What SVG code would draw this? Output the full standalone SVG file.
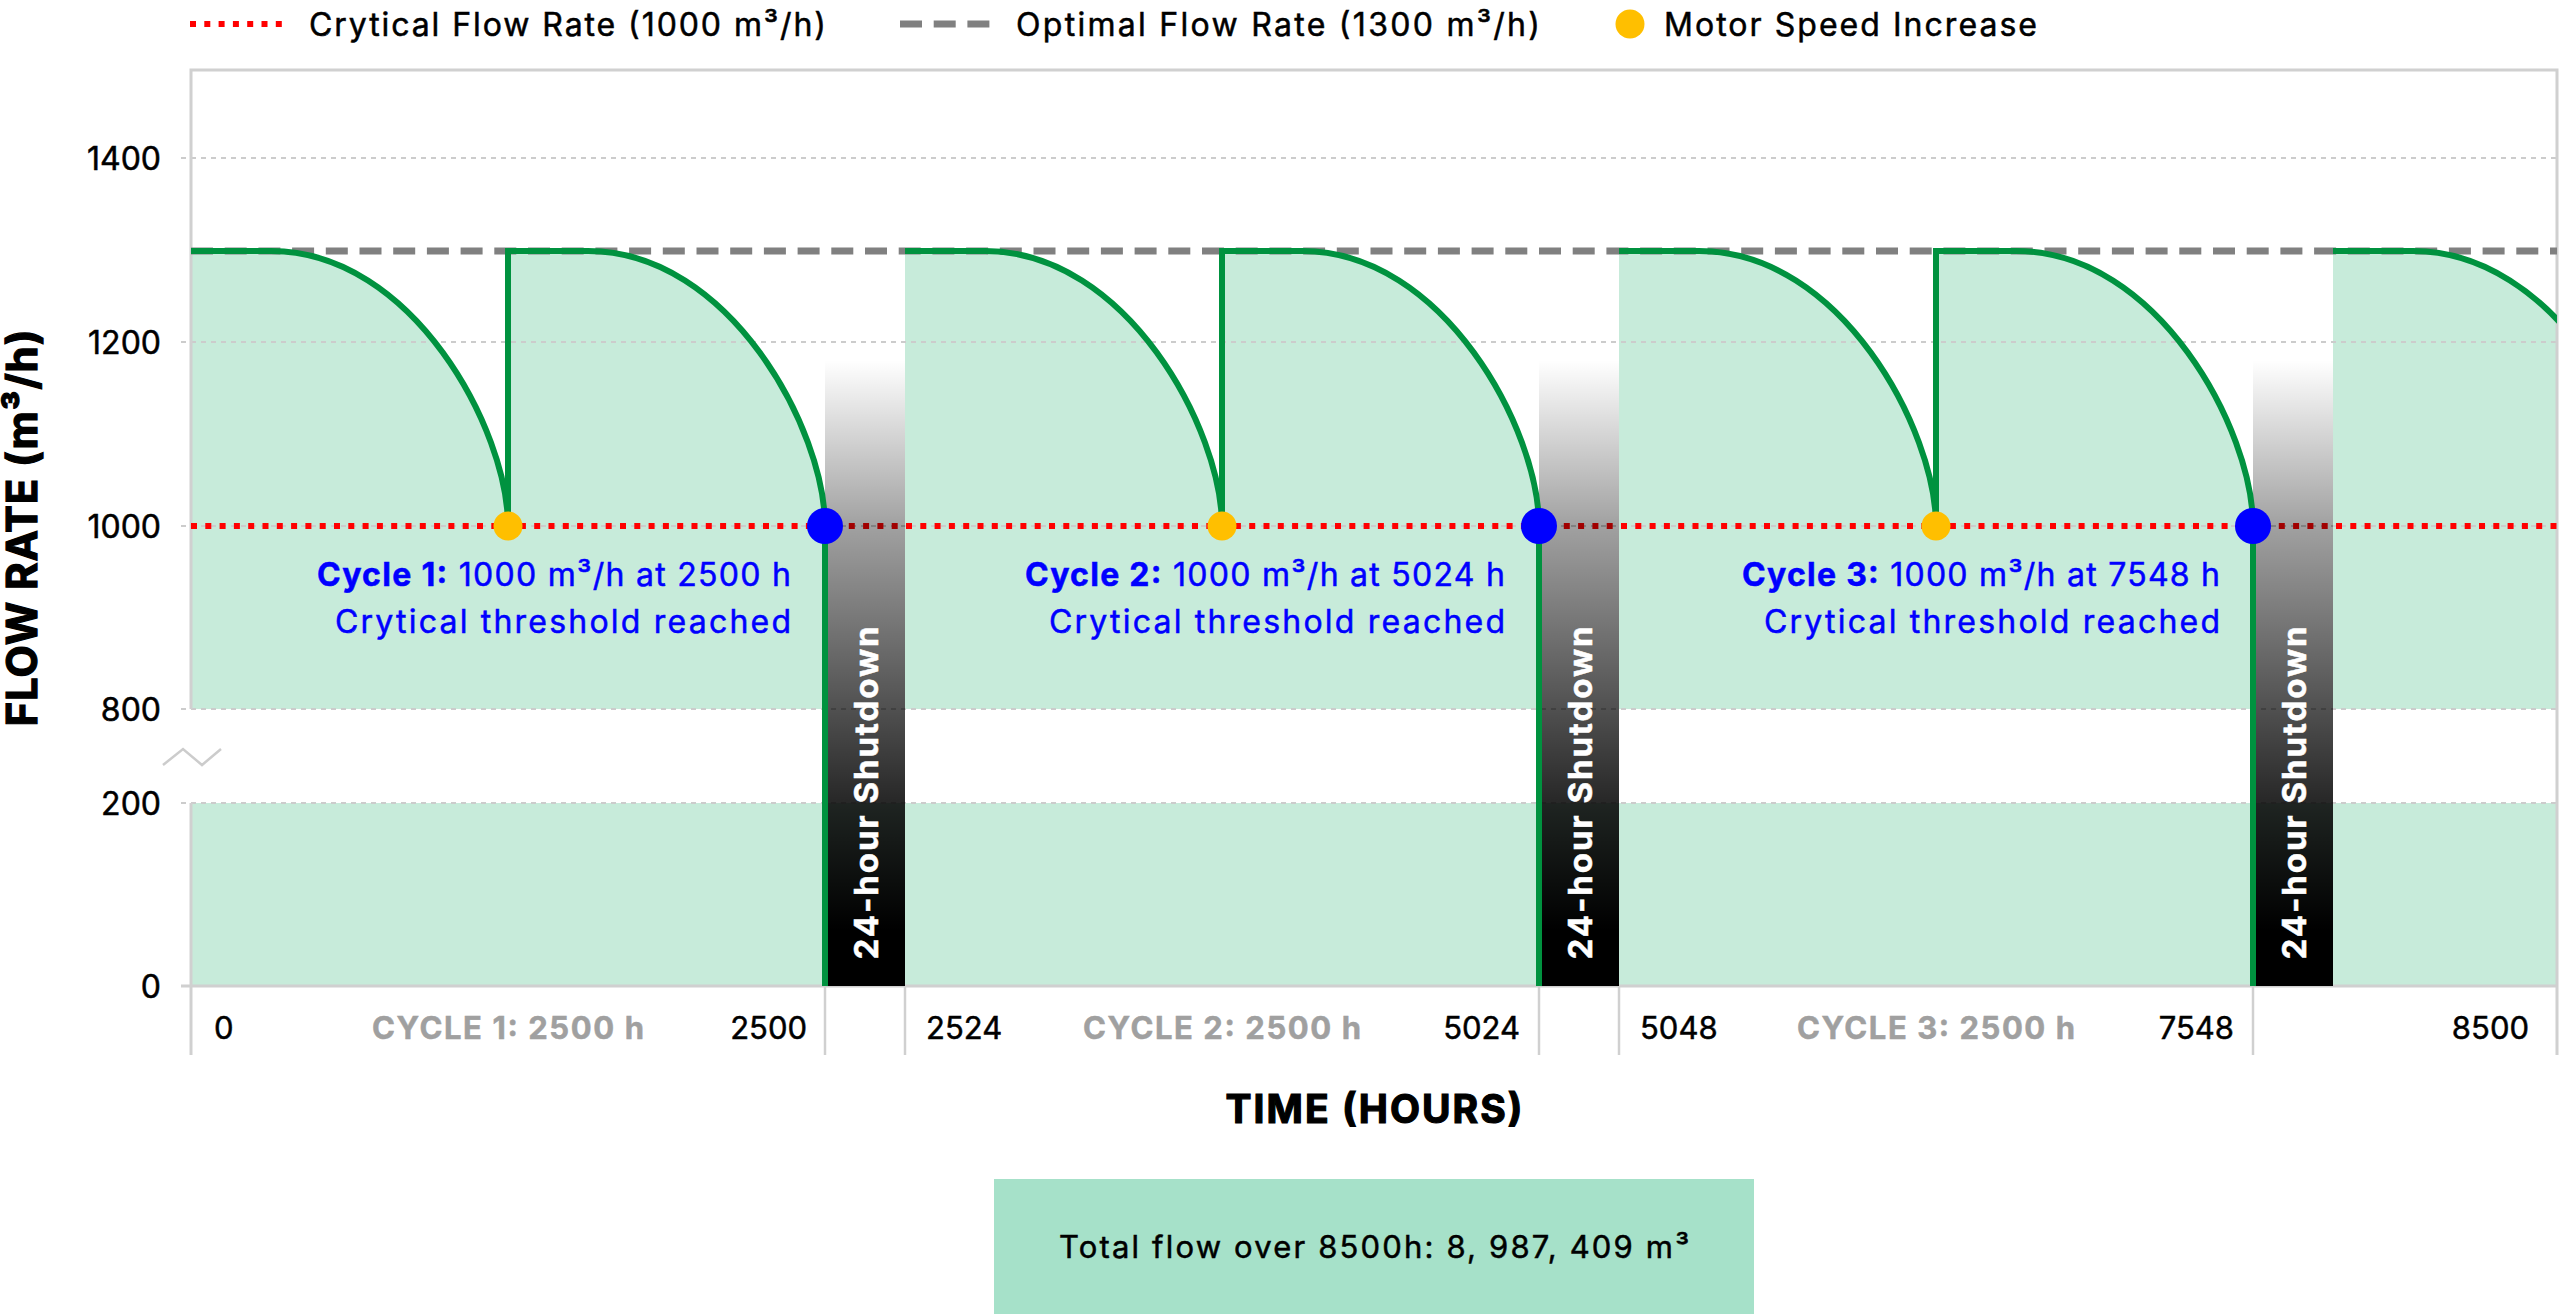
<svg xmlns="http://www.w3.org/2000/svg" width="2560" height="1314" viewBox="0 0 2560 1314">
<style>
text{font-family:Inter,"Open Sans","Liberation Sans",sans-serif;font-weight:400;fill:#000;stroke:#000;stroke-width:0.5}
.leg{font-size:32px}
.ytick{font-size:32px;text-anchor:end}
.xtick{font-size:31px}
.cyc{font-size:31px;fill:#a0a0a0;stroke:#a0a0a0;font-weight:700;text-anchor:middle}
.blue{font-size:32px;fill:#0000ff;stroke:#0000ff;text-anchor:end}
.shut{font-size:33px;fill:#fff;stroke:#fff;font-weight:700;text-anchor:middle}
.head{font-weight:700;stroke-width:1.2}
.grid{stroke:#cccccc;stroke-width:2;stroke-dasharray:5 5;fill:none}
.frame{stroke:#d0d0d0;stroke-width:3;fill:none}
.sep{stroke:#d0d0d0;stroke-width:2.5}
.fill{fill:#c7ebda;stroke:none}
.flow{fill:none;stroke:#00923f;stroke-width:6}
.crit{stroke:#ff0000;stroke-width:6;stroke-dasharray:6 8.3;fill:none}
.opt{stroke:#808080;stroke-width:7;stroke-dasharray:22 11.7;fill:none}
.bar{fill:url(#shade)}
.ydot{fill:#ffbf00}
.bdot{fill:#0000ff}
</style>
<defs>
<linearGradient id="shade" gradientUnits="userSpaceOnUse" x1="0" y1="360" x2="0" y2="986">
<stop offset="0" stop-color="#000" stop-opacity="0"/>
<stop offset="0.265" stop-color="#000" stop-opacity="0.37"/>
<stop offset="0.7" stop-color="#000" stop-opacity="0.84"/>
<stop offset="0.91" stop-color="#000" stop-opacity="1"/>
<stop offset="1" stop-color="#000" stop-opacity="1"/>
</linearGradient>
<clipPath id="plot"><rect x="191" y="60" width="2366" height="930"/></clipPath>
</defs>
<rect width="2560" height="1314" fill="#fff"/>

<g id="legend">
<line class="crit" x1="190" y1="24" x2="284" y2="24"/>
<text class="leg" x="309" y="36" textLength="517">Crytical Flow Rate (1000 m³/h)</text>
<line class="opt" x1="900" y1="24" x2="992" y2="24"/>
<text class="leg" x="1016" y="36" textLength="524">Optimal Flow Rate (1300 m³/h)</text>
<circle class="ydot" cx="1630" cy="24" r="14.5"/>
<text class="leg" x="1664" y="36" textLength="373">Motor Speed Increase</text>
</g>

<g id="fills" clip-path="url(#plot)">
<path class="fill" d="M191,709 L191,251 L271,251 C413,251 508,430 508,526 L508,251 L588,251 C730,251 825,430 825,526 L825,709 Z"/>
<path class="fill" d="M905,709 L905,251 L985,251 C1127,251 1222,430 1222,526 L1222,251 L1302,251 C1444,251 1539,430 1539,526 L1539,709 Z"/>
<path class="fill" d="M1619,709 L1619,251 L1699,251 C1841,251 1936,430 1936,526 L1936,251 L2016,251 C2158,251 2253,430 2253,526 L2253,709 Z"/>
<path class="fill" d="M2333,709 L2333,251 L2413,251 C2555,251 2650,430 2650,526 L2650,709 Z"/>
<rect class="fill" x="191" y="803" width="2366" height="183"/>
</g>

<g id="grid">
<line class="grid" x1="181" y1="158" x2="2557" y2="158"/>
<line class="grid" x1="181" y1="342" x2="2557" y2="342"/>
<line class="grid" x1="181" y1="526" x2="2557" y2="526"/>
<line class="grid" x1="181" y1="709" x2="2557" y2="709"/>
<line class="grid" x1="181" y1="803" x2="2557" y2="803"/>
<polyline points="163,765 183,749 202,765 221,749" fill="none" stroke="#cccccc" stroke-width="2.5"/>
</g>

<g id="frame">
<polyline class="frame" points="191,709 191,70 2557,70 2557,1055"/>
<line class="frame" x1="191" y1="803" x2="191" y2="1055"/>
<line class="frame" x1="181" y1="986" x2="2557" y2="986"/>
<line class="sep" x1="825" y1="986" x2="825" y2="1055"/>
<line class="sep" x1="905" y1="986" x2="905" y2="1055"/>
<line class="sep" x1="1539" y1="986" x2="1539" y2="1055"/>
<line class="sep" x1="1619" y1="986" x2="1619" y2="1055"/>
<line class="sep" x1="2253" y1="986" x2="2253" y2="1055"/>
</g>

<g id="reference-lines">
<line class="opt" x1="191" y1="251" x2="2557" y2="251"/>
<line class="crit" x1="191" y1="526" x2="2557" y2="526"/>
</g>

<g id="shutdown-1">
<rect class="bar" x="825" y="360" width="80" height="626"/>
<text class="shut" transform="translate(878,793) rotate(-90)" textLength="333">24-hour Shutdown</text>
</g>
<g id="shutdown-2">
<rect class="bar" x="1539" y="360" width="80" height="626"/>
<text class="shut" transform="translate(1592,793) rotate(-90)" textLength="333">24-hour Shutdown</text>
</g>
<g id="shutdown-3">
<rect class="bar" x="2253" y="360" width="80" height="626"/>
<text class="shut" transform="translate(2306,793) rotate(-90)" textLength="333">24-hour Shutdown</text>
</g>

<g id="connectors" clip-path="url(#plot)">
<path class="flow" d="M191,251 L271,251 C413,251 508,430 508,526 L508,251 L588,251 C730,251 825,430 825,526 L825,986"/>
<path class="flow" d="M905,251 L985,251 C1127,251 1222,430 1222,526 L1222,251 L1302,251 C1444,251 1539,430 1539,526 L1539,986"/>
<path class="flow" d="M1619,251 L1699,251 C1841,251 1936,430 1936,526 L1936,251 L2016,251 C2158,251 2253,430 2253,526 L2253,986"/>
<path class="flow" d="M2333,251 L2413,251 C2555,251 2650,430 2650,526"/>
</g>

<g id="markers">
<circle class="ydot" cx="508" cy="526" r="14.5"/>
<circle class="ydot" cx="1222" cy="526" r="14.5"/>
<circle class="ydot" cx="1936" cy="526" r="14.5"/>
<circle class="bdot" cx="825" cy="526" r="18"/>
<circle class="bdot" cx="1539" cy="526" r="18"/>
<circle class="bdot" cx="2253" cy="526" r="18"/>
</g>

<g id="cycle-labels">
<text class="blue" x="791" y="586" textLength="474"><tspan font-weight="700">Cycle 1:</tspan> 1000 m³/h at 2500 h</text>
<text class="blue" x="791" y="633" textLength="456">Crytical threshold reached</text>
<text class="blue" x="1505" y="586" textLength="480"><tspan font-weight="700">Cycle 2:</tspan> 1000 m³/h at 5024 h</text>
<text class="blue" x="1505" y="633" textLength="456">Crytical threshold reached</text>
<text class="blue" x="2220" y="586" textLength="478"><tspan font-weight="700">Cycle 3:</tspan> 1000 m³/h at 7548 h</text>
<text class="blue" x="2220" y="633" textLength="456">Crytical threshold reached</text>
</g>

<g id="y-axis">
<text class="ytick" x="161" y="170">1400</text>
<text class="ytick" x="161" y="354">1200</text>
<text class="ytick" x="161" y="538">1000</text>
<text class="ytick" x="161" y="721">800</text>
<text class="ytick" x="161" y="815">200</text>
<text class="ytick" x="161" y="998">0</text>
<text class="head" transform="translate(37,528) rotate(-90)" font-size="42" text-anchor="middle" textLength="397">FLOW RATE (m³/h)</text>
</g>

<g id="x-axis">
<text class="xtick" x="214" y="1039">0</text>
<text class="cyc" x="508" y="1039" textLength="272">CYCLE 1: 2500 h</text>
<text class="xtick" x="807" y="1039" text-anchor="end">2500</text>
<text class="xtick" x="926" y="1039">2524</text>
<text class="cyc" x="1222" y="1039" textLength="278">CYCLE 2: 2500 h</text>
<text class="xtick" x="1520" y="1039" text-anchor="end">5024</text>
<text class="xtick" x="1640" y="1039">5048</text>
<text class="cyc" x="1936" y="1039" textLength="278">CYCLE 3: 2500 h</text>
<text class="xtick" x="2234" y="1039" text-anchor="end">7548</text>
<text class="xtick" x="2529" y="1039" text-anchor="end">8500</text>
<text class="head" x="1374" y="1123" font-size="39" text-anchor="middle" textLength="297">TIME (HOURS)</text>
</g>

<g id="total-box">
<rect x="994" y="1179" width="760" height="135" fill="#a6e1c9"/>
<text x="1374" y="1258" font-size="31" text-anchor="middle" textLength="630">Total flow over 8500h: 8, 987, 409 m³</text>
</g>
</svg>
